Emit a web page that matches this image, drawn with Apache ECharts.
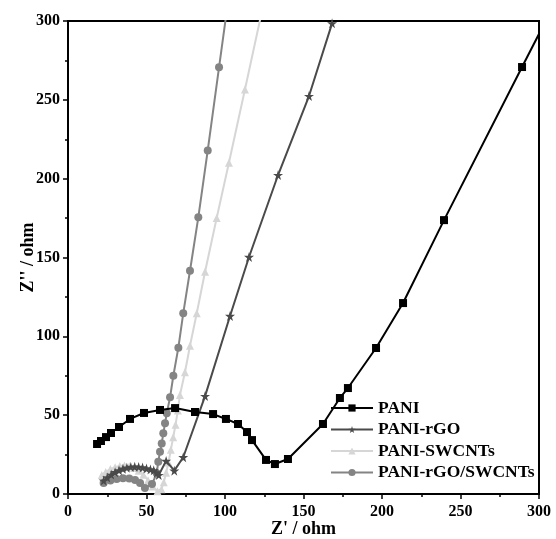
<!DOCTYPE html>
<html>
<head>
<meta charset="utf-8">
<script src="https://cdn.jsdelivr.net/npm/echarts@6/dist/echarts.min.js"></script>
<style>
  html, body { margin: 0; padding: 0; background: #fff; }
  #chart { width: 556px; height: 539px; }
</style>
</head>
<body>
<div id="chart"></div>
<script>
// Nyquist data, [Z', Z''] in ohm
const seriesNames = ['PANI', 'PANI-rGO', 'PANI-SWCNTs', 'PANI-rGO/SWCNTs'];

const pani = [
  [18.5, 31.7], [21.0, 33.6], [24.2, 36.1], [27.4, 38.7], [32.5, 42.5],
  [39.5, 47.6], [48.4, 51.4], [58.6, 53.3], [68.2, 54.5], [80.9, 52.0],
  [92.4, 50.7], [100.6, 47.6], [108.3, 44.4], [114.0, 39.3], [117.2, 34.2],
  [126.1, 21.6], [131.8, 19.0], [140.1, 22.2], [162.4, 44.4], [173.2, 60.9],
  [178.3, 67.2], [196.2, 92.6], [213.4, 121.1], [239.5, 173.7], [289.2, 270.8],
  [315, 321]
];

const paniRgo = [
  [22.7, 8.5], [25, 10.5], [27.5, 12.3], [30, 13.8], [32.5, 15], [35, 16],
  [37.5, 16.7], [40, 17.2], [42.5, 17.3], [45, 17.2], [47.5, 16.8], [50, 16.2],
  [52.5, 15.6], [54.6, 15.0], [56.5, 13.5], [57.8, 12.0], [62.5, 21.0],
  [67.7, 14.8], [73.4, 23.3], [87.3, 62.1], [103.2, 112.9], [115.3, 150.3],
  [133.8, 202.3], [153.5, 252.4], [168.2, 298.5]
];

const paniSwcnt = [
  [21.5, 12], [24, 14], [27, 15.8], [30, 17], [33, 17.8], [36, 18], [39, 17.6],
  [42, 16.6], [45, 14.8], [48, 12.2], [51, 8.8], [54, 4.8], [57, 1.8],
  [59.5, 3], [61, 7.5], [62.5, 13.5], [64, 20], [65.5, 28], [67, 36],
  [68.5, 44], [70, 53], [71.3, 62.8], [74.5, 77.2], [77.7, 94.0],
  [82.0, 114.6], [87.3, 141.0], [94.7, 175.0], [102.5, 210.1],
  [112.7, 256.6], [125, 313]
];

const paniRgoSwcnt = [
  [22.7, 7.0], [27, 8.5], [31, 9.5], [35, 10], [39, 9.8], [42.7, 8.9],
  [45.9, 7.0], [49, 3.8], [53.5, 6.3], [56.5, 13.1], [57.5, 20.5],
  [58.6, 26.8], [59.7, 32.1], [60.7, 38.5], [61.8, 44.8], [62.9, 51.2],
  [65.0, 61.3], [67.1, 75.0], [70.3, 92.8], [73.4, 114.6], [77.7, 141.6],
  [83.0, 175.5], [89.0, 217.9], [96.2, 270.6], [103, 320]
];

const xTicks = [0, 300, 50];
const yTicks = [0, 300, 50];

const FONT = "'Times New Roman', 'Liberation Serif', serif";
const starPath = 'path://M50,0 L61,35 L98,35 L68,57 L79,91 L50,70 L21,91 L32,57 L2,35 L39,35 Z';

const chart = echarts.init(document.getElementById('chart'));

function line(name, data, color, symbol, size, z) {
  return {
    name: name,
    type: 'line',
    data: data,
    z: z,
    clip: true,
    symbol: symbol,
    symbolSize: size,
    showSymbol: true,
    lineStyle: { color: color, width: 2 },
    itemStyle: { color: color },
    emphasis: { disabled: true }
  };
}

const axisCommon = {
  type: 'value',
  axisLine: { show: true, lineStyle: { color: '#000', width: 2 } },
  axisTick: { show: true, inside: false, length: 5, lineStyle: { color: '#000', width: 1.5 } },
  minorTick: { show: true, splitNumber: 2, length: 3, lineStyle: { color: '#000', width: 1.5 } },
  splitLine: { show: false },
  nameMoveOverlap: false,
  axisLabel: { color: '#000', fontFamily: FONT, fontWeight: 'bold', fontSize: 16 },
  nameTextStyle: { color: '#000', fontFamily: FONT, fontWeight: 'bold', fontSize: 18 }
};

chart.setOption({
  animation: false,
  backgroundColor: '#fff',
  grid: {
    left: 68, right: 17, top: 21, bottom: 45,
    outerBoundsMode: 'none',
    show: true, borderColor: '#000', borderWidth: 2
  },
  legend: {
    data: seriesNames,
    orient: 'vertical',
    left: 325,
    top: 394,
    itemWidth: 42,
    itemHeight: 9,
    itemGap: 3.5,
    textStyle: { color: '#000', fontFamily: FONT, fontWeight: 'bold', fontSize: 17.5 }
  },
  xAxis: Object.assign({}, axisCommon, {
    min: xTicks[0], max: xTicks[1], interval: xTicks[2],
    name: "Z' / ohm",
    nameLocation: 'middle',
    nameGap: 26,
    axisLabel: Object.assign({}, axisCommon.axisLabel, { margin: 10 })
  }),
  yAxis: Object.assign({}, axisCommon, {
    min: yTicks[0], max: yTicks[1], interval: yTicks[2],
    name: "Z'' / ohm",
    nameLocation: 'middle',
    nameGap: 31,
    axisLabel: Object.assign({}, axisCommon.axisLabel, { margin: 8 })
  }),
  series: [
    line(seriesNames[0], pani, '#000000', 'rect', 8, 5),
    line(seriesNames[1], paniRgo, '#4a4a4a', starPath, 10, 4),
    line(seriesNames[2], paniSwcnt, '#d6d6d6', 'triangle', 8, 2),
    line(seriesNames[3], paniRgoSwcnt, '#848484', 'circle', 8, 3)
  ]
});
</script>
</body>
</html>
